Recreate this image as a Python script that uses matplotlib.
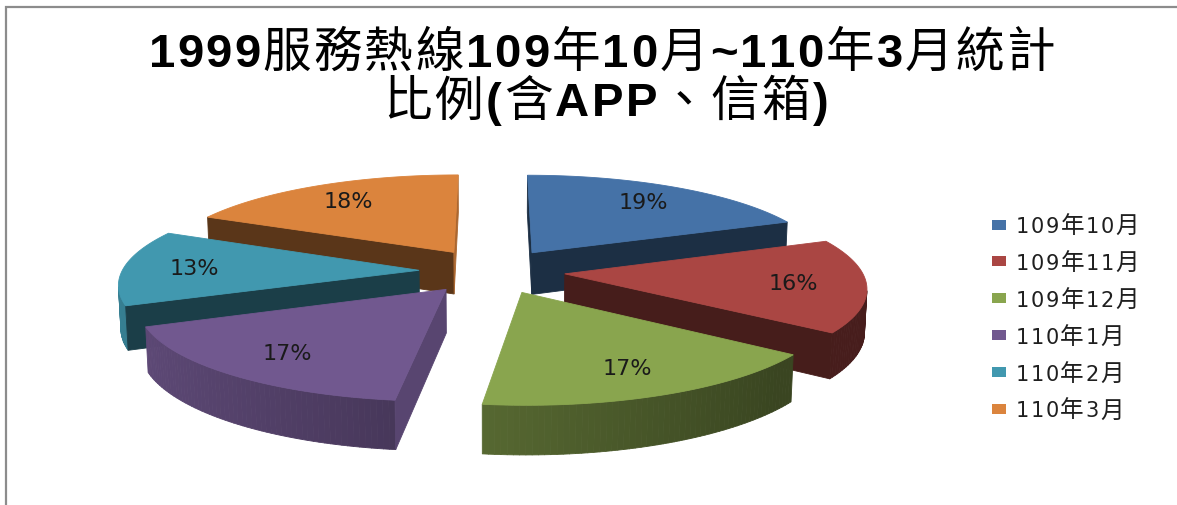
import numpy as np
import matplotlib
matplotlib.use("Agg")
import matplotlib.pyplot as plt
from matplotlib.patches import Polygon, Rectangle
from matplotlib.collections import PolyCollection
from matplotlib.colors import to_rgb

# ---------------- data ----------------
categories = ['109年10月', '109年11月', '109年12月', '110年1月', '110年2月', '110年3月']
values = [19, 16, 17, 17, 13, 18]
pct_labels = ['19%', '16%', '17%', '17%', '13%', '18%']
colors = ['#4572A7', '#AA4643', '#89A54E', '#71588F', '#4198AF', '#DB843D']
title_line1 = '1999服務熱線109年10月~110年3月統計'
title_line2 = '比例(含APP、信箱)'

# ---------------- figure ----------------
W, Hpx = 1177, 506
fig = plt.figure(figsize=(W / 100, Hpx / 100), dpi=100)
ax = fig.add_axes([0, 0, 1, 1])
ax.set_xlim(0, W)
ax.set_ylim(Hpx, 0)
ax.axis('off')

# 3D projection parameters (pseudo-3D exploded pie)
CX, CY = 492.0, 272.0
F = 2168.0
D = 7.3
sT, cT = 0.31, np.sqrt(1 - 0.31 ** 2)
EXPLODE = 0.246
THICK = 0.152
CAM = np.array([0.0, -D * cT, D * sT])


def proj(X, Y, Z):
    depth = D + Y * cT - Z * sT
    return CX + F * X / depth, CY - F * (Y * sT + Z * cT) / depth


def shade(c, f):
    r, g, b = to_rgb(c)
    return (r * f, g * f, b * f)


def visible(normal, point):
    return np.dot(normal, CAM - np.asarray(point)) > 0


total = float(sum(values))
fracs = np.array(values) / total
ends = np.cumsum(fracs) * 360.0
starts = np.concatenate([[0.0], ends[:-1]])

slices = []
for i in range(len(values)):
    a1, a2 = starts[i], ends[i]
    am = np.radians((a1 + a2) / 2)
    ox, oy = EXPLODE * np.sin(am), EXPLODE * np.cos(am)
    mx, my = ox + 0.5 * np.sin(am), oy + 0.5 * np.cos(am)
    depth = D + my * cT
    slices.append((depth, i, a1, a2, ox, oy))

slices.sort(key=lambda s: -s[0])

z = 2
for depth, i, a1, a2, ox, oy in slices:
    col = colors[i]
    n = max(8, int((a2 - a1) / 1.0))
    angs = np.radians(np.linspace(a1, a2, n))
    rx = ox + np.sin(angs)
    ry = oy + np.cos(angs)
    # outer wall
    polys, fcs = [], []
    for k in range(n - 1):
        amid = (angs[k] + angs[k + 1]) / 2
        nrm = np.array([np.sin(amid), np.cos(amid), 0.0])
        pt = [(rx[k] + rx[k + 1]) / 2, (ry[k] + ry[k + 1]) / 2, -THICK / 2]
        if not visible(nrm, pt):
            continue
        p1 = proj(rx[k], ry[k], 0)
        p2 = proj(rx[k + 1], ry[k + 1], 0)
        p3 = proj(rx[k + 1], ry[k + 1], -THICK)
        p4 = proj(rx[k], ry[k], -THICK)
        polys.append([p1, p2, p3, p4])
        f = max(0.42, 0.6 - 0.24 * np.sin(amid))
        fcs.append(shade(col, f))
    if polys:
        pc = PolyCollection(polys, facecolors=fcs, edgecolors=fcs,
                            linewidths=0.6, zorder=z)
        ax.add_collection(pc)
    # radial walls
    for a, sign in ((a1, -1), (a2, 1)):
        ar = np.radians(a)
        nang = a + sign * 90.0
        nr = np.radians(nang)
        nrm = np.array([np.sin(nr), np.cos(nr), 0.0])
        ex, ey = ox + np.sin(ar), oy + np.cos(ar)
        pt = [(ox + ex) / 2, (oy + ey) / 2, -THICK / 2]
        if not visible(nrm, pt):
            continue
        nn = nang % 360
        f = 0.78 if 45 < nn < 135 else 0.41
        c = shade(col, f)
        quad = [proj(ox, oy, 0), proj(ex, ey, 0), proj(ex, ey, -THICK), proj(ox, oy, -THICK)]
        ax.add_patch(Polygon(quad, closed=True, facecolor=c, edgecolor=c,
                             linewidth=0.6, zorder=z + 0.5))
    # top face
    top = [proj(ox, oy, 0)] + [proj(x, y, 0) for x, y in zip(rx, ry)]
    ax.add_patch(Polygon(top, closed=True, facecolor=col, edgecolor=col,
                         linewidth=0.6, zorder=z + 1))
    # label
    am = np.radians((a1 + a2) / 2)
    lx, ly = proj(ox + 0.76 * np.sin(am), oy + 0.76 * np.cos(am), 0)
    ax.text(lx, ly, pct_labels[i], ha='center', va='center', fontsize=16,
            color='#1a1a1a', family='DejaVu Sans', zorder=50)
    z += 3

# ---------------- text runs helper ----------------
renderer = fig.canvas.get_renderer()


def draw_chars(x, y, s, latin, cjk, ha='center', color='black', gap=0.0):
    texts, widths = [], []
    for ch in s:
        props = latin if ord(ch) < 128 else cjk
        t = ax.text(0, y, ch, va='baseline', ha='left', color=color,
                    zorder=60, **props)
        w = t.get_window_extent(renderer).width
        texts.append(t)
        widths.append(w + gap)
    tot = sum(widths) - gap
    cur = x - tot / 2 if ha == 'center' else x
    for t, w in zip(texts, widths):
        t.set_x(cur)
        cur += w


title_latin = dict(family='Liberation Sans', fontweight='bold', fontsize=34)
title_cjk = dict(family='Noto Sans CJK TC', fontsize=35)
draw_chars(602, 67, title_line1, title_latin, title_cjk, gap=2.2)
draw_chars(606, 116, title_line2, title_latin, title_cjk, gap=2.5)

# ---------------- legend ----------------
leg_y0, leg_dy = 225.5, 36.9
leg_latin = dict(family='DejaVu Sans', fontsize=15)
leg_cjk = dict(family='Noto Sans CJK TC', fontsize=17)
for i, cat in enumerate(categories):
    yc = leg_y0 + i * leg_dy
    ax.add_patch(Rectangle((992, yc - 5), 14, 10, facecolor=colors[i],
                           edgecolor='none', zorder=60))
    draw_chars(1016, yc + 7.5, cat, leg_latin, leg_cjk, ha='left',
               color='#1f1f1f', gap=1.5)

# ---------------- border ----------------
ax.plot([6, 6, W + 5], [Hpx + 5, 7.5, 7.5], color='#8c8c8c', lw=1.6,
        solid_joinstyle='miter', zorder=70, clip_on=False)

fig.savefig('out.png', dpi=100)
